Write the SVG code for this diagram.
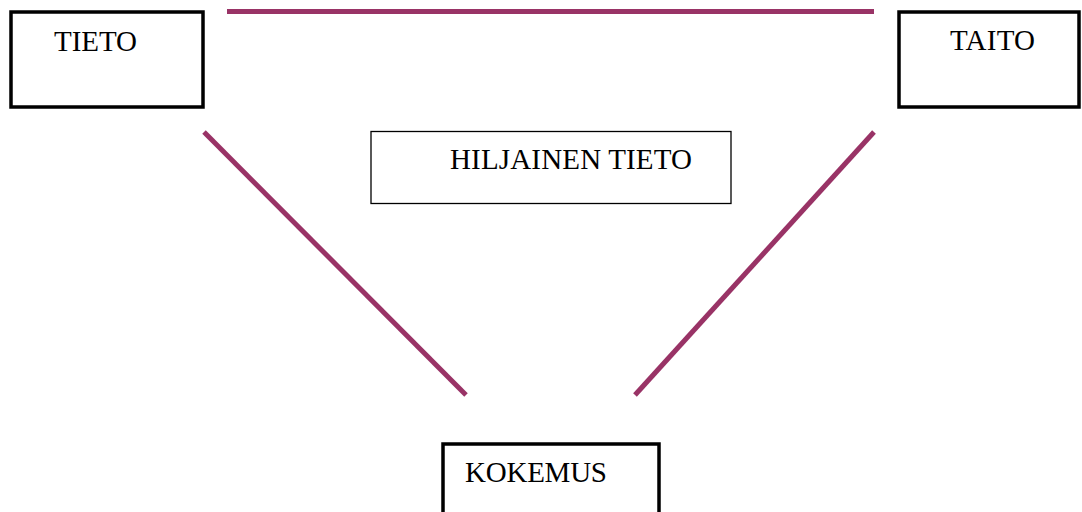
<svg xmlns="http://www.w3.org/2000/svg" width="1082" height="512" viewBox="0 0 1082 512">
<style>
.box{fill:#fff;stroke:#000;stroke-width:3.5}
.thin{fill:#fff;stroke:#000;stroke-width:1.3}
.lbl{font-family:"Liberation Serif","Times New Roman",serif;font-size:29px;fill:#000}
.con{stroke:#993366;stroke-width:5;stroke-linecap:butt;fill:none}
</style>
<rect width="1082" height="512" fill="#fff"/>
<g id="connectors">
<line class="con" x1="227" y1="11.5" x2="874" y2="11.5"/>
<line class="con" x1="204" y1="132" x2="466" y2="395"/>
<line class="con" x1="874" y1="132" x2="635" y2="395"/>
</g>
<g id="tieto">
<rect class="box" x="11" y="12" width="192" height="95"/>
<text class="lbl" x="54" y="51" textLength="83">TIETO</text>
</g>
<g id="taito">
<rect class="box" x="899" y="12" width="180" height="95"/>
<text class="lbl" x="950" y="50" textLength="85">TAITO</text>
</g>
<g id="hiljainen">
<rect class="thin" x="371" y="131.5" width="360" height="72"/>
<text class="lbl" x="450" y="169" textLength="242">HILJAINEN TIETO</text>
</g>
<g id="kokemus">
<rect class="box" x="443" y="444" width="216" height="80"/>
<text class="lbl" x="465" y="482" textLength="142">KOKEMUS</text>
</g>
</svg>
